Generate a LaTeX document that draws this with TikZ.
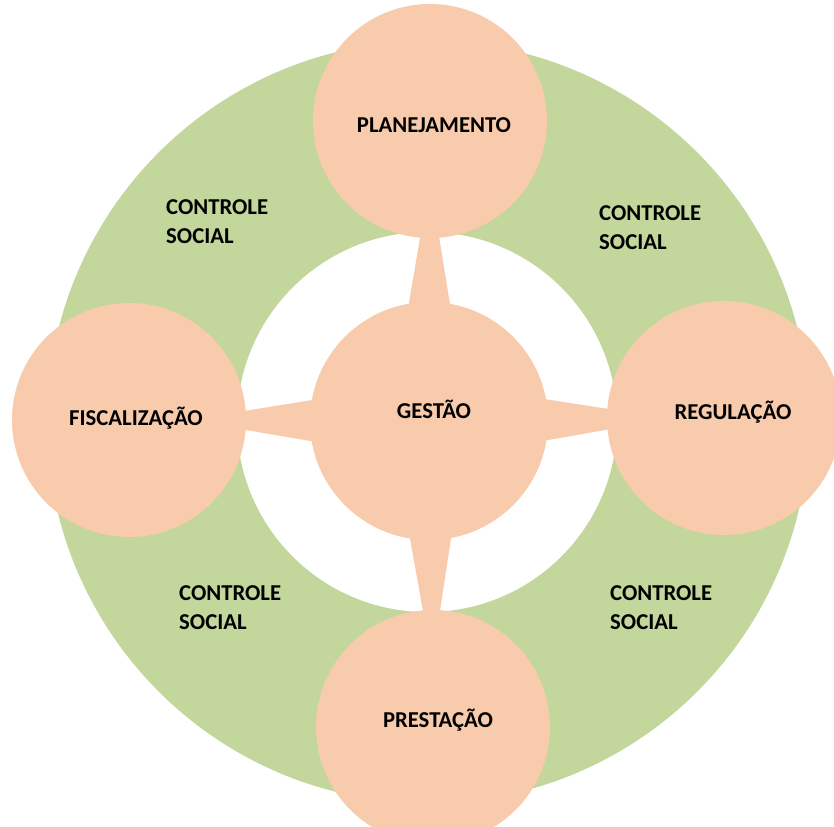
\documentclass[tikz,border=0pt]{standalone}
\usepackage{fontspec}
\setmainfont{Carlito}
\usetikzlibrary{calc}
\definecolor{ringgreen}{HTML}{C3D69B}
\definecolor{peach}{HTML}{F8CBAD}
\begin{document}
\begin{tikzpicture}[x=1pt,y=-1pt,
  disc/.style={circle, fill=peach, inner sep=0pt, minimum size=#1},
  spike/.style={fill=peach},
  lbl/.style={font=\fontsize{22.7}{29}\selectfont\bfseries, inner sep=0pt, text height=14.6pt, text depth=0pt},
  cs/.style={font=\fontsize{22.7}{29}\selectfont\bfseries, inner sep=0pt, align=left, anchor=north west}]
\useasboundingbox (0,0) rectangle (834,826);
\fill[white] (0,0) rectangle (834,826);
% ring
\fill[ringgreen] (428,422) circle[radius=381pt];
\fill[white] (427,422) circle[radius=190pt];
% discs
\node[disc=238pt] (g)  at (429,421) {};
\node[disc=234pt] (pl) at (430,121) {};
\node[disc=234pt] (fi) at (129,420) {};
\node[disc=234pt] (re) at (724,418) {};
\node[disc=234pt] (pr) at (433,727) {};
% spikes from the centre disc to each outer disc
\foreach \o in {pl,fi,re,pr}{
  \coordinate (t\o) at ($(g)!205pt!(\o)$);
  \fill[spike] ($(g)!40pt!90:(\o)$) -- ($(t\o)!6pt!-90:(g)$) -- ($(t\o)!6pt!90:(g)$) -- ($(g)!40pt!-90:(\o)$) -- cycle;
}
% labels
\node[lbl] (tpl) at (434,125) {PLANEJAMENTO};
\node[lbl] (tg)  at (434,411) {GESTÃO};
\node[lbl] (tfi) at (136,418) {FISCALIZAÇÃO};
\node[lbl] (tre) at (733,412) {REGULAÇÃO};
\node[lbl] (tpr) at (438,720) {PRESTAÇÃO};
\node[cs] (cs1) at (166,199) {CONTROLE\\SOCIAL};
\node[cs] (cs2) at (599,205) {CONTROLE\\SOCIAL};
\node[cs] (cs3) at (179,585) {CONTROLE\\SOCIAL};
\node[cs] (cs4) at (610,585) {CONTROLE\\SOCIAL};
\end{tikzpicture}
\end{document}
